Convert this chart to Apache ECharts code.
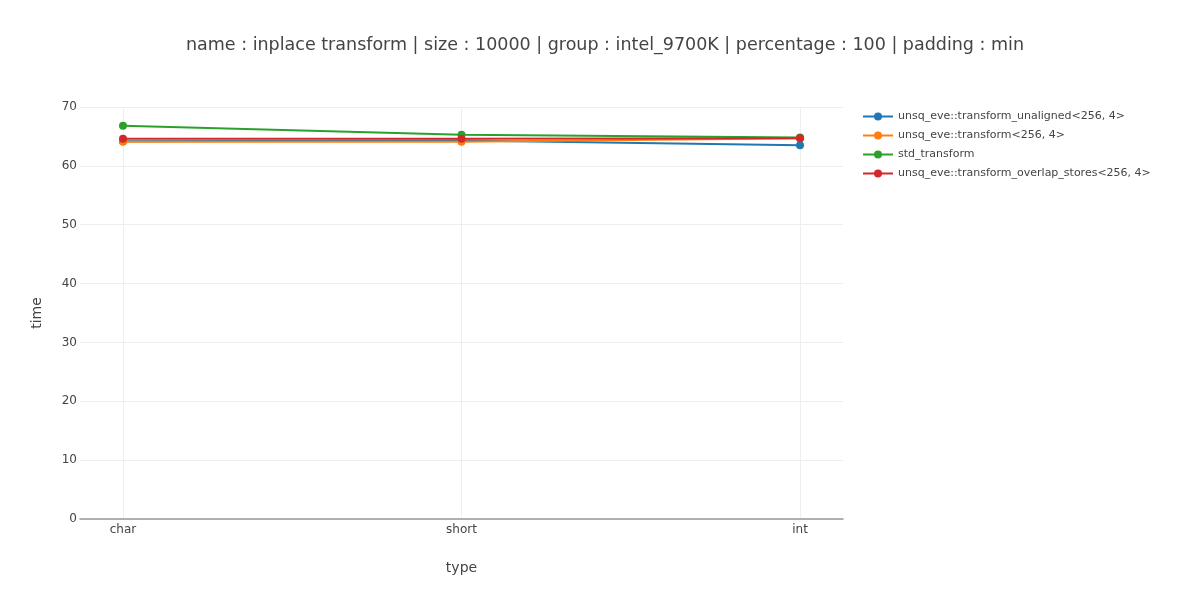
<!DOCTYPE html>
<html><head><meta charset="utf-8">
<script src="https://cdn.jsdelivr.net/npm/echarts@6/dist/echarts.min.js"></script>
<style>html,body{margin:0;padding:0;background:#fff}#c{width:1200px;height:600px}</style>
</head><body><div id="c"></div>
<script>
const categories = ['char', 'short', 'int'];
const seriesNames = ['unsq_eve::transform_unaligned<256, 4>', 'unsq_eve::transform<256, 4>', 'std_transform', 'unsq_eve::transform_overlap_stores<256, 4>'];
const unalignedVals = [64.2, 64.3, 63.5];
const transformVals = [64.1, 64.1, 64.7];
const stdVals = [66.8, 65.3, 64.8];
const overlapVals = [64.6, 64.6, 64.7];
const yTicks = [0, 10, 20, 30, 40, 50, 60, 70];
const colors = ['#1f77b4', '#ff7f0e', '#2ca02c', '#d62728'];
const allVals = [unalignedVals, transformVals, stdVals, overlapVals];

const chart = echarts.init(document.getElementById('c'));
const font = '"DejaVu Sans", sans-serif';
chart.setOption({
  animation: false,
  title: {
    text: 'name : inplace transform | size : 10000 | group : intel_9700K | percentage : 100 | padding : min',
    left: 600, textAlign: 'center', top: 31,
    textStyle: {fontFamily: font, fontSize: 17.5, fontWeight: 'normal', color: '#444'}
  },
  legend: {
    orient: 'vertical', left: 857, top: 106, itemGap: 8, itemWidth: 30, itemHeight: 10,
    textStyle: {fontFamily: font, fontSize: 11, color: '#444'},
    data: seriesNames
  },
  grid: {left: 80, right: 357, top: 107, bottom: 81, containLabel: false},
  xAxis: {
    type: 'value', min: -0.127, max: 2.127,
    name: 'type', nameLocation: 'middle', nameGap: 42,
    nameTextStyle: {fontFamily: font, fontSize: 14, color: '#444'},
    axisLine: {show: true, onZero: false, lineStyle: {color: '#999', width: 1.5}},
    axisTick: {show: false, customValues: [0, 1, 2]},
    axisLabel: {customValues: [0, 1, 2], formatter: v => categories[Math.round(v)] || '', fontFamily: font, fontSize: 12, color: '#444', margin: 5},
    splitLine: {show: false}
  },
  yAxis: {
    type: 'value', min: 0, max: 70, interval: 10,
    name: 'time', nameLocation: 'middle', nameGap: 36,
    nameTextStyle: {fontFamily: font, fontSize: 14, color: '#444'},
    axisLine: {show: false}, axisTick: {show: false},
    axisLabel: {fontFamily: font, fontSize: 12, color: '#444', margin: 3},
    splitLine: {lineStyle: {color: '#eee', width: 1}}
  },
  series: seriesNames.map((n, i) => ({
    name: n, type: 'line',
    data: allVals[i].map((v, j) => [j, v]),
    symbol: 'circle', symbolSize: 8, showSymbol: true,
    lineStyle: {width: 2, color: colors[i]},
    itemStyle: {color: colors[i]},
    z: 2 + i,
    markLine: i === 0 ? {
      silent: true, symbol: 'none', label: {show: false},
      lineStyle: {color: '#eee', width: 1, type: 'solid'},
      data: [0, 1, 2].map(x => ({xAxis: x})),
      z: 0
    } : undefined
  }))
});
</script></body></html>
